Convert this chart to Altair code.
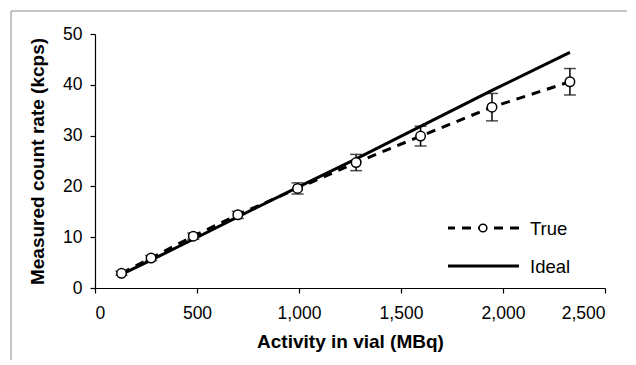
import altair as alt
import pandas as pd

activity = [130, 275, 482, 700, 993, 1280, 1596, 1946, 2328]
true_rate = [2.9, 5.9, 10.2, 14.4, 19.6, 24.7, 29.9, 35.6, 40.6]
true_err = [0.4, 0.5, 0.6, 0.7, 1.1, 1.6, 1.95, 2.7, 2.6]
ideal_rate = [2.7, 5.5, 9.6, 14.0, 19.8, 25.4, 31.8, 38.9, 46.4]
x_ticks = [0, 500, 1000, 1500, 2000, 2500]
y_ticks = [0, 10, 20, 30, 40, 50]

df = pd.DataFrame({
    "activity": activity,
    "true": true_rate,
    "lo": [t - e for t, e in zip(true_rate, true_err)],
    "hi": [t + e for t, e in zip(true_rate, true_err)],
    "ideal": ideal_rate,
})

FONT = "Liberation Sans"
W, H = 510, 254

xs = alt.Scale(domain=[0, 2500], nice=False)
ys = alt.Scale(domain=[0, 50], nice=False)

common = dict(
    grid=False, tickSize=5,
    domainColor="black", tickColor="black", labelColor="black", titleColor="black",
    labelFont=FONT, titleFont=FONT, labelFontSize=17.5, titleFontSize=19,
    titleFontWeight="bold", labelFontWeight="normal", domainWidth=1.2, tickWidth=1.2,
)
xax = alt.Axis(values=x_ticks, format=",.0f", title="Activity in vial (MBq)",
               labelPadding=11, titlePadding=11, **common)
yax = alt.Axis(values=y_ticks, format=".0f", title="Measured count rate (kcps)",
               labelPadding=8, titlePadding=15, **common)

base = alt.Chart(df)

ideal = base.mark_line(color="black", strokeWidth=3).encode(
    x=alt.X("activity:Q", scale=xs, axis=xax),
    y=alt.Y("ideal:Q", scale=ys, axis=yax),
)
true_line = base.mark_line(color="black", strokeWidth=3, strokeDash=[9, 7]).encode(
    x=alt.X("activity:Q", scale=xs),
    y=alt.Y("true:Q", scale=ys),
)
err = base.mark_rule(color="black", strokeWidth=1.5).encode(
    x=alt.X("activity:Q", scale=xs),
    y=alt.Y("lo:Q", scale=ys),
    y2="hi:Q",
)
cap_lo = base.mark_tick(color="black", orient="horizontal", size=12, thickness=1.5).encode(
    x=alt.X("activity:Q", scale=xs),
    y=alt.Y("lo:Q", scale=ys),
)
cap_hi = base.mark_tick(color="black", orient="horizontal", size=12, thickness=1.5).encode(
    x=alt.X("activity:Q", scale=xs),
    y=alt.Y("hi:Q", scale=ys),
)
pts = base.mark_point(shape="circle", size=90, filled=True, fill="white",
                      stroke="black", strokeWidth=1.5, opacity=1).encode(
    x=alt.X("activity:Q", scale=xs),
    y=alt.Y("true:Q", scale=ys),
)

# legend (drawn in pixel space)
leg = alt.Chart(pd.DataFrame({"k": [0]}))
leg_true = leg.mark_rule(color="black", strokeWidth=3, strokeDash=[9, 7], strokeDashOffset=2).encode(
    x=alt.value(353), x2=alt.value(424), y=alt.value(194))
leg_circ = leg.mark_point(shape="circle", size=60, filled=True, fill="white",
                          stroke="black", strokeWidth=1.5, opacity=1).encode(
    x=alt.value(388), y=alt.value(194))
leg_ideal = leg.mark_rule(color="black", strokeWidth=3).encode(
    x=alt.value(353), x2=alt.value(424), y=alt.value(232))
leg_t1 = leg.mark_text(text="True", align="left", baseline="middle", font=FONT, fontSize=18.5).encode(
    x=alt.value(435), y=alt.value(195))
leg_t2 = leg.mark_text(text="Ideal", align="left", baseline="middle", font=FONT, fontSize=18.5).encode(
    x=alt.value(435), y=alt.value(233))

# figure frame
frame_top = leg.mark_rule(color="#8a8a8a", strokeWidth=1).encode(
    x=alt.value(-84), x2=alt.value(540), y=alt.value(-23))
frame_left = leg.mark_rule(color="#8a8a8a", strokeWidth=1).encode(
    x=alt.value(-84), y=alt.value(-23), y2=alt.value(340))

chart = alt.layer(
    ideal, true_line, err, cap_lo, cap_hi, pts,
    leg_true, leg_circ, leg_ideal, leg_t1, leg_t2, frame_top, frame_left,
).properties(
    width=W, height=H,
    background="white",
    autosize=alt.AutoSizeParams(type="none"),
    padding={"left": 87, "top": 26, "right": 22, "bottom": 72},
).configure_view(stroke=None)

chart.save("out.html", embed_options={"renderer": "svg", "actions": False})
